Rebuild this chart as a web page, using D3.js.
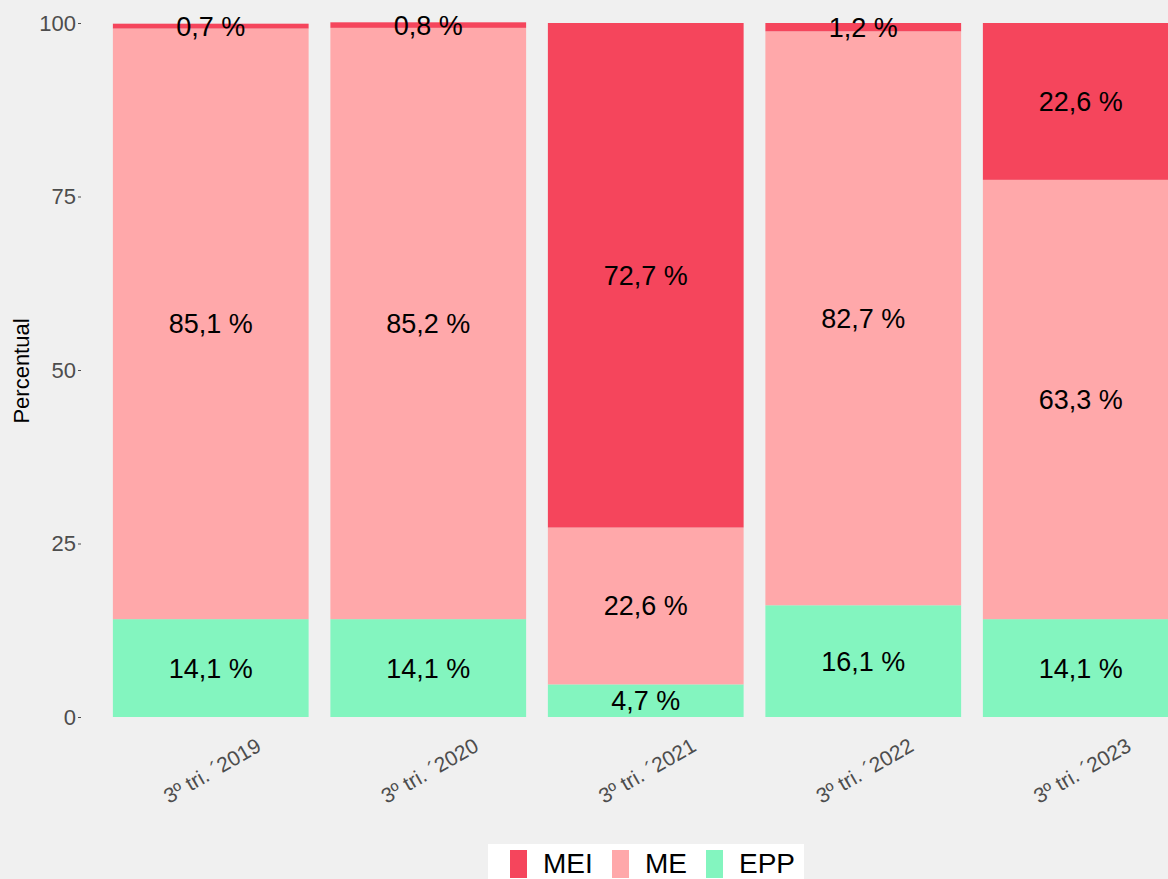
<!DOCTYPE html>
<html>
<head>
<meta charset="utf-8">
<script src="https://cdn.jsdelivr.net/npm/d3@7"></script>
<style>
  body { margin: 0; background: #f0f0f0; }
  svg { display: block; font-family: "Liberation Sans", Arial, sans-serif; }
</style>
</head>
<body>
<div id="chart"></div>
<script>
// data
let periods = ["3º tri. ´2019", "3º tri. ´2020", "3º tri. ´2021", "3º tri. ´2022", "3º tri. ´2023"];
let portes = ["EPP", "ME", "MEI"];
let eppValues = [14.1, 14.1, 4.7, 16.1, 14.1];
let meValues = [85.1, 85.2, 22.6, 82.7, 63.3];
let meiValues = [0.7, 0.8, 72.7, 1.2, 22.6];
let yTicks = [0, 25, 50, 75, 100];
let legendOrder = ["MEI", "ME", "EPP"];

let width = 1168;
let height = 879;
let colors = { MEI: "#f5455c", ME: "#ffa8aa", EPP: "#83f5bf" };

let rows = periods.map(function(p, i) {
  return { period: p, EPP: eppValues[i], ME: meValues[i], MEI: meiValues[i] };
});

let chart = d3.select("#chart")
  .append("svg")
  .attr("width", width).attr("height", height);

chart.append("rect").attr("width", width).attr("height", height).attr("fill", "#f0f0f0");

let x = d3.scaleBand().domain(periods).range([102, 1189.5]).paddingInner(0.1).paddingOuter(0.05);
let y = d3.scaleLinear().domain([0, 100]).range([717, 23]);

let stacked = d3.stack().keys(portes)(rows);

// bars
let layers = chart.append("g").attr("class", "bars")
  .selectAll("g")
  .data(stacked)
  .enter()
  .append("g")
  .attr("fill", function(d) { return colors[d.key]; });

layers.selectAll("rect")
  .data(function(d) { return d; })
  .enter()
  .append("rect")
  .attr("x", function(d) { return x(d.data.period); })
  .attr("width", x.bandwidth())
  .attr("y", function(d) { return y(d[1]); })
  .attr("height", function(d) { return y(d[0]) - y(d[1]); });

// value labels
layers.selectAll("text")
  .data(function(d) { return d.map(function(s) { s.key = d.key; return s; }); })
  .enter()
  .append("text")
  .attr("x", function(d) { return x(d.data.period) + x.bandwidth() / 2; })
  .attr("y", function(d) { return y((d[0] + d[1]) / 2); })
  .attr("dy", "0.35em")
  .attr("text-anchor", "middle")
  .attr("fill", "#000")
  .style("font-size", "27px")
  .text(function(d) { return d.data[d.key].toFixed(1).replace(".", ",") + " %"; });

// y axis
let yAxis = d3.axisLeft(y).tickValues(yTicks).tickSize(3).tickPadding(2);
let yg = chart.append("g").attr("transform", "translate(81,0)").call(yAxis);
yg.select(".domain").remove();
yg.selectAll("line").attr("stroke", "#4d4d4d");
yg.selectAll("text").attr("fill", "#4d4d4d").style("font-size", "22px").attr("font-family", null);

chart.append("text")
  .attr("transform", "translate(29,371) rotate(-90)")
  .attr("text-anchor", "middle")
  .style("font-size", "22px")
  .attr("fill", "#000")
  .text("Percentual");

// x labels
chart.append("g").selectAll("text")
  .data(periods)
  .enter()
  .append("text")
  .attr("transform", function(d) { return "translate(" + (x(d) + x.bandwidth() / 2 + 5) + ",777) rotate(-30)"; })
  .attr("text-anchor", "middle")
  .style("font-size", "21px")
  .attr("fill", "#4d4d4d")
  .text(function(d) { return d; });

// legend
let legend = chart.append("g").attr("class", "legend");
legend.append("rect").attr("x", 488).attr("y", 844).attr("width", 316).attr("height", 40).attr("fill", "#fff");
let legendX = [510, 612, 706];
legendOrder.forEach(function(k, i) {
  legend.append("rect")
    .attr("x", legendX[i]).attr("y", 850)
    .attr("width", 17).attr("height", 28)
    .attr("fill", colors[k]);
  legend.append("text")
    .attr("x", legendX[i] + 33).attr("y", 873)
    .style("font-size", "28px")
    .attr("fill", "#000")
    .text(k);
});
</script>
</body>
</html>
